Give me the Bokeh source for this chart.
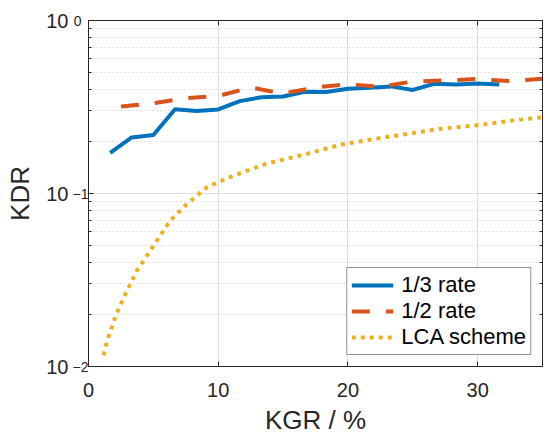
from bokeh.plotting import figure
from bokeh.models import (LogAxis, LinearAxis, FixedTicker, CustomJSTickFormatter,
                          Legend, LegendItem, Range1d)
from bokeh.embed import file_html
from bokeh.resources import INLINE

# ---- data ----
kgr_third = [1.67, 3.33, 5.0, 6.67, 8.33, 10.0, 11.67, 13.33, 15.0, 16.67,
             18.33, 20.0, 21.67, 23.33, 25.0, 26.67, 28.33, 30.0, 31.67]
kdr_third = [0.172, 0.211, 0.218, 0.307, 0.300, 0.306, 0.342, 0.360, 0.364, 0.387,
             0.386, 0.403, 0.408, 0.416, 0.397, 0.431, 0.427, 0.433, 0.427]

kgr_half = [2.5, 5.0, 7.5, 10.0, 12.5, 15.0, 17.5, 20.0, 22.5, 25.0, 27.5, 30.0, 32.5, 35.0]
kdr_half = [0.318, 0.333, 0.356, 0.366, 0.410, 0.378, 0.410, 0.428, 0.414, 0.444,
            0.450, 0.459, 0.446, 0.460]

kgr_lca = [1.17, 1.44, 2.08, 2.85, 3.74, 4.51, 5.28, 6.3, 7.6, 9.13, 11.2, 13.7,
           16.9, 19.5, 22.1, 24.6, 27.2, 29.8, 32.3, 35.0]
kdr_lca = [0.0116, 0.0141, 0.0195, 0.0263, 0.0359, 0.0438, 0.0535, 0.0698, 0.0871,
           0.1088, 0.127, 0.1485, 0.170, 0.192, 0.207, 0.221, 0.237, 0.247, 0.262, 0.276]

series_labels = ["1/3 rate", "1/2 rate", "LCA scheme"]
x_ticks = [0, 10, 20, 30]
y_ticks = [0.01, 0.1, 1.0]
y_base = "10"
# exponents are right-aligned next to the base; "0" is padded to the width of "−1"
y_exponents = ["\u22122", "\u22121", "0\u2002"]
y_minor = [m * d for d in (0.01, 0.1) for m in range(2, 10)]

FONT = "Liberation Sans"
AX = "#262626"
BLUE, ORANGE, YELLOW = "#0072BD", "#D95319", "#EDB120"

p = figure(width=548, height=441, y_axis_type="log",
           x_range=Range1d(0, 35), y_range=Range1d(0.01, 1.0),
           output_backend="svg", toolbar_location=None,
           min_border_left=88, min_border_right=6, min_border_top=20, min_border_bottom=75)
p.background_fill_color = "white"
p.outline_line_color = AX
p.outline_line_width = 1

# lines
r1 = p.line(kgr_third, kdr_third, line_color=BLUE, line_width=4)
r2 = p.line(kgr_half, kdr_half, line_color=ORANGE, line_width=4, line_dash="18 16")
r3 = p.line(kgr_lca, kdr_lca, line_color=YELLOW, line_width=4, line_dash="4 5")

empty = CustomJSTickFormatter(code="return ''")

# bottom x axis
xa = p.xaxis[0]
xa.ticker = FixedTicker(ticks=x_ticks)
xa.axis_label = "KGR / %"
xa.axis_label_text_font = FONT
xa.axis_label_text_font_size = "26px"
xa.axis_label_text_font_style = "normal"
xa.axis_label_text_color = AX
xa.axis_label_standoff = 5
xa.major_label_text_font = FONT
xa.major_label_text_font_size = "20px"
xa.major_label_text_color = AX
xa.major_label_standoff = 16
xa.major_tick_in = 5
xa.major_tick_out = 0
xa.minor_tick_line_color = None
xa.axis_line_color = AX
xa.major_tick_line_color = AX

# inner left y axis: exponents (superscripts)
exp_fmt = CustomJSTickFormatter(args=dict(yt=y_ticks, ylab=y_exponents), code="""
    let best = 0, bd = Infinity;
    for (let i = 0; i < yt.length; i++) {
        const d = Math.abs(Math.log10(tick) - Math.log10(yt[i]));
        if (d < bd) { bd = d; best = i; }
    }
    return ylab[best];
""")
ya = p.yaxis[0]
ya.ticker = FixedTicker(ticks=y_ticks, minor_ticks=y_minor)
ya.formatter = exp_fmt
ya.major_label_text_font = FONT
ya.major_label_text_font_size = "14px"
ya.major_label_text_color = AX
ya.major_label_text_baseline = "alphabetic"
ya.major_label_standoff = 0
ya.major_tick_in = 5
ya.major_tick_out = 0
ya.minor_tick_in = 3
ya.minor_tick_out = 0
ya.axis_line_color = AX
ya.major_tick_line_color = AX
ya.minor_tick_line_color = AX

# outer left y axis: base "10" and the axis title
base_fmt = CustomJSTickFormatter(args=dict(basetxt=y_base), code="return basetxt")
yb = LogAxis(ticker=FixedTicker(ticks=y_ticks), formatter=base_fmt,
             major_label_text_font=FONT, major_label_text_font_size="20px",
             major_label_text_color=AX, major_label_text_baseline="middle",
             major_label_standoff=-5,
             axis_line_color=None, major_tick_line_color=None, minor_tick_line_color=None,
             axis_label="KDR", axis_label_text_font=FONT, axis_label_text_font_size="26px",
             axis_label_text_font_style="normal", axis_label_text_color=AX,
             axis_label_standoff=8)
p.add_layout(yb, "left")

# top and right box axes with inner ticks
top = LinearAxis(ticker=FixedTicker(ticks=x_ticks), formatter=empty,
                 major_label_text_font_size="0px", major_label_standoff=0,
                 major_tick_in=5, major_tick_out=0, minor_tick_line_color=None,
                 axis_line_color=AX, major_tick_line_color=AX)
p.add_layout(top, "above")
right = LogAxis(ticker=FixedTicker(ticks=y_ticks, minor_ticks=y_minor), formatter=empty,
                major_label_text_font_size="0px", major_label_standoff=0,
                major_tick_in=5, major_tick_out=0, minor_tick_in=3, minor_tick_out=0,
                axis_line_color=AX, major_tick_line_color=AX, minor_tick_line_color=AX)
p.add_layout(right, "right")

# grids
p.xgrid.grid_line_color = "#dedede"
p.ygrid.grid_line_color = "#dedede"
p.ygrid.minor_grid_line_color = "#c4c4c4"
p.ygrid.minor_grid_line_dash = "1 3"

legend = Legend(items=[LegendItem(label=series_labels[0], renderers=[r1]),
                       LegendItem(label=series_labels[1], renderers=[r2]),
                       LegendItem(label=series_labels[2], renderers=[r3])],
                location="bottom_right")
legend.margin = 11
legend.padding = 4
legend.spacing = 0
legend.label_height = 20
legend.glyph_height = 20
legend.glyph_width = 42
legend.label_standoff = 8
legend.label_text_font = FONT
legend.label_text_font_size = "22px"
legend.label_text_color = "black"
legend.border_line_color = AX
legend.border_line_width = 1
legend.background_fill_color = "white"
legend.background_fill_alpha = 1.0
p.add_layout(legend)

open("out.html", "w").write(file_html(p, INLINE))
